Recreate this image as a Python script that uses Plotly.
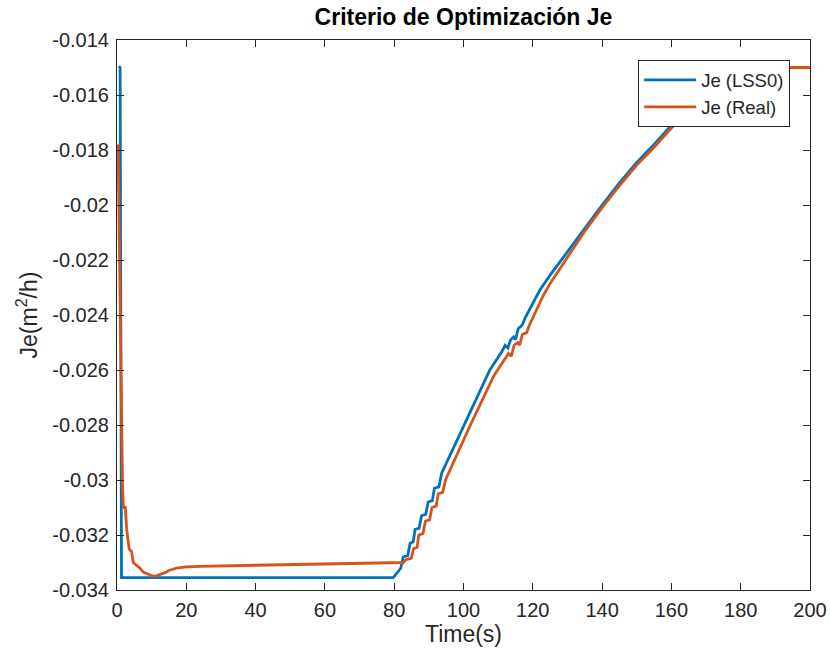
import plotly.graph_objects as go

# Time (s) and criterion value Je for the LSS0 estimate
t_lss0 = [0.5, 0.9, 1.3, 79.7, 80.7, 81.9, 82.6, 83.9, 84.6, 85.5, 86.0, 87.2, 87.9,
          89.1, 89.8, 91.0, 91.6, 92.9, 93.7, 101.0, 107.6, 111.0, 112.0, 112.8, 113.6,
          114.5, 115.0, 115.8, 117.0, 117.8, 122.0, 125.0, 130.0, 135.0, 140.0, 145.0,
          150.0, 155.0, 160.0, 165.0, 170.0, 175.0, 180.0, 184.0, 188.0, 200.0]
je_lss0 = [-0.01495, -0.0150, -0.03355, -0.03355, -0.0334, -0.0332, -0.0328, -0.03275,
           -0.0323, -0.03225, -0.0318, -0.03175, -0.0313, -0.03125, -0.0308, -0.03075,
           -0.0303, -0.03025, -0.02975, -0.0278, -0.0260, -0.02535, -0.0251, -0.0252,
           -0.0249, -0.0248, -0.0249, -0.0245, -0.02435, -0.0241, -0.0231, -0.02255,
           -0.0217, -0.02085, -0.0200, -0.0192, -0.01845, -0.0178, -0.0171, -0.01655,
           -0.0161, -0.0157, -0.01535, -0.0151, -0.0150, -0.0150]

# Time (s) and criterion value Je for the real plant
t_real = [0.3, 0.6, 1.15, 1.6, 1.85, 2.4, 2.8, 3.5, 4.2, 4.7, 5.6, 6.6, 7.6, 8.6, 10.0,
          11.0, 12.3, 13.3, 14.2, 14.8, 15.8, 17.2, 20.0, 24.0, 40.0, 60.0, 82.6, 83.4,
          84.9, 85.6, 86.6, 87.1, 88.3, 89.0, 90.2, 90.9, 92.1, 92.7, 94.0, 94.8, 102.0,
          108.8, 112.0, 113.0, 113.8, 114.6, 115.6, 116.2, 117.0, 118.2, 118.9, 123.0,
          125.0, 130.0, 135.0, 140.0, 145.0, 150.0, 155.0, 160.0, 165.0, 170.0, 175.0,
          180.0, 184.0, 188.0, 200.0]
je_real = [-0.0178, -0.0212, -0.0261, -0.0302, -0.0310, -0.0310, -0.0318, -0.0325,
           -0.0326, -0.0330, -0.0331, -0.0332, -0.03335, -0.0334, -0.03348, -0.0335,
           -0.03345, -0.0334, -0.03335, -0.0333, -0.03325, -0.0332, -0.03316, -0.03314,
           -0.0331, -0.03306, -0.0330, -0.0329, -0.03285, -0.0325, -0.03245, -0.0320,
           -0.03195, -0.0315, -0.03145, -0.0310, -0.03095, -0.0305, -0.03045, -0.0300,
           -0.0280, -0.0262, -0.0256, -0.0254, -0.0255, -0.0251, -0.0250, -0.0251,
           -0.0247, -0.02465, -0.0244, -0.0233, -0.02285, -0.0219, -0.02095, -0.0201,
           -0.0193, -0.01855, -0.0179, -0.0172, -0.0166, -0.01615, -0.0157, -0.01535,
           -0.0151, -0.0150, -0.0150]

x_ticks = [0, 20, 40, 60, 80, 100, 120, 140, 160, 180, 200]
y_ticks = [-0.034, -0.032, -0.03, -0.028, -0.026, -0.024, -0.022, -0.02, -0.018,
           -0.016, -0.014]
y_tick_text = ["-0.034", "-0.032", "-0.03", "-0.028", "-0.026", "-0.024", "-0.022",
               "-0.02", "-0.018", "-0.016", "-0.014"]

FONT = "Liberation Sans, Arial, sans-serif"
AX = "#262626"

fig = go.Figure()
fig.add_trace(go.Scatter(x=t_lss0, y=je_lss0, mode="lines", name="Je (LSS0)",
                         line=dict(color="#0072BD", width=2.8)))
fig.add_trace(go.Scatter(x=t_real, y=je_real, mode="lines", name="Je (Real)",
                         line=dict(color="#D95319", width=2.8)))

axis_common = dict(showline=True, linecolor=AX, linewidth=1, mirror="ticks",
                   ticks="inside", ticklen=7, tickcolor=AX, tickwidth=1,
                   showgrid=False, zeroline=False, automargin=False,
                   tickfont=dict(family=FONT, size=20, color=AX))

fig.update_layout(
    width=830, height=658,
    margin=dict(l=117, r=20, t=40, b=68),
    paper_bgcolor="white", plot_bgcolor="white",
    title=dict(text="<b>Criterio de Optimización Je</b>", x=0.5, xref="paper",
               xanchor="center", y=1 - 17 / 658, yanchor="middle",
               font=dict(family=FONT, size=23, color="black")),
    xaxis=dict(range=[0, 200], tickvals=x_ticks, ticklabelstandoff=2,
               title=dict(text="Time(s)", font=dict(family=FONT, size=23, color=AX),
                          standoff=4),
               **axis_common),
    yaxis=dict(range=[-0.034, -0.014], tickvals=y_ticks, ticktext=y_tick_text,
               ticklabelstandoff=3,
               title=dict(text="Je(m<sup>2</sup>/h)",
                          font=dict(family=FONT, size=23, color=AX), standoff=8),
               **axis_common),
    legend=dict(x=0.752, y=0.963, xanchor="left", yanchor="top",
                bgcolor="white", bordercolor=AX, borderwidth=1,
                font=dict(family=FONT, size=18.5, color=AX),
                itemwidth=52, tracegroupgap=0),
    showlegend=True,
)

fig.write_html("out.html")
